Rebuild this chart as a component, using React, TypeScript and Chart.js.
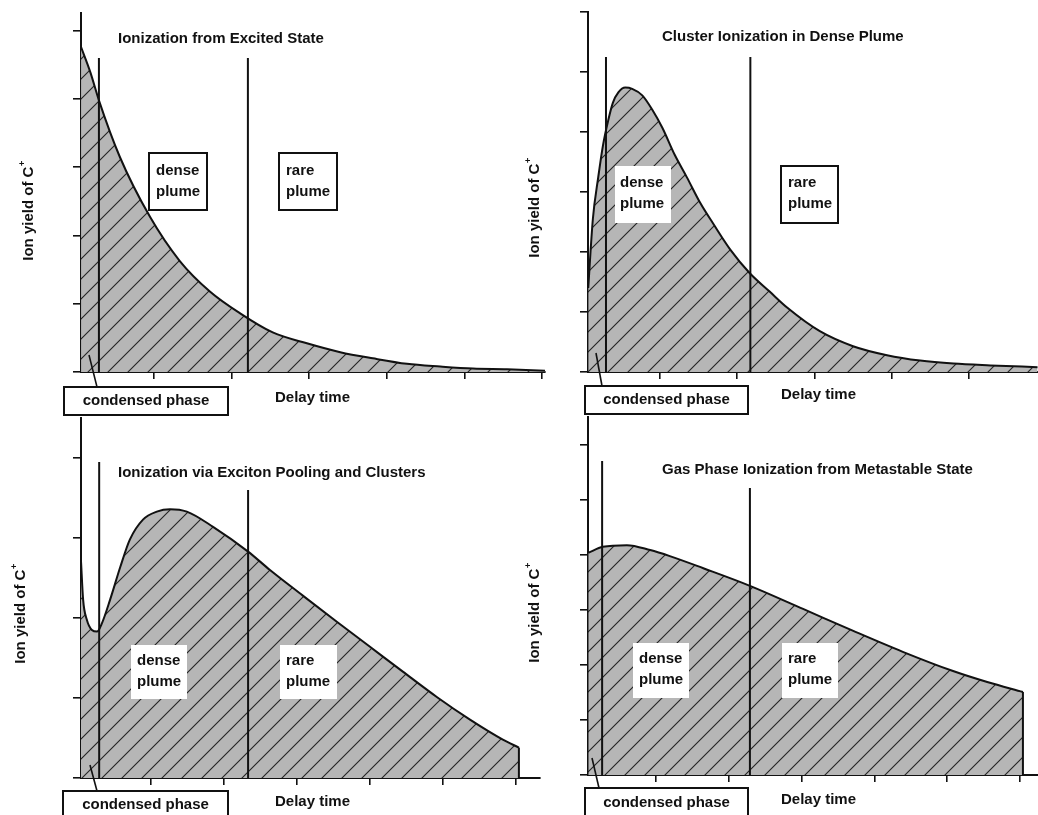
import { useEffect, useRef } from "react";
import { Chart, registerables } from "chart.js";

Chart.register(...registerables);

// ---------------- Data (arbitrary time units / yield units) ----------------
// Panel 1: Ionization from Excited State
const p1Time = [0.06, 0.18, 0.29, 0.56, 0.95, 1.33, 1.72, 2.11, 2.53, 2.97, 3.4, 3.82, 4.26, 4.69, 5.11, 5.55, 6.04];
const p1Yield = [4.76, 4.39, 3.98, 3.15, 2.27, 1.63, 1.18, 0.86, 0.58, 0.42, 0.29, 0.2, 0.12, 0.08, 0.05, 0.04, 0.02];
const p1Phases = [0.29, 2.21];
const p1PhaseTop = [4.6, 4.6];

// Panel 2: Cluster Ionization in Dense Plume
const p2Time = [0.07, 0.13, 0.2, 0.26, 0.33, 0.39, 0.46, 0.55, 0.64, 0.77, 0.9, 1.03, 1.19, 1.35, 1.52, 1.69, 1.91, 2.16, 2.42, 2.65, 3.07, 3.5, 3.94, 4.37, 4.8, 5.28, 5.89];
const p2Yield = [1.4, 2.55, 3.25, 3.77, 4.2, 4.49, 4.66, 4.74, 4.72, 4.61, 4.37, 4.07, 3.62, 3.24, 2.82, 2.47, 2.04, 1.65, 1.34, 1.07, 0.68, 0.43, 0.28, 0.19, 0.14, 0.11, 0.08];
const p2Phases = [0.3, 2.17];
const p2PhaseTop = [5.25, 5.25];

// Panel 3: Ionization via Exciton Pooling and Clusters
const p3Time = [0.04, 0.07, 0.12, 0.19, 0.26, 0.33, 0.44, 0.58, 0.71, 0.89, 1.08, 1.26, 1.49, 1.85, 2.33, 2.63, 3.08, 3.55, 4.0, 4.45, 4.92, 5.37, 5.82, 6.04];
const p3Yield = [2.73, 2.23, 1.98, 1.85, 1.83, 1.94, 2.23, 2.64, 2.98, 3.23, 3.33, 3.36, 3.33, 3.14, 2.83, 2.6, 2.28, 1.95, 1.64, 1.33, 1.01, 0.73, 0.48, 0.38];
const p3Phases = [0.29, 2.33];
const p3PhaseTop = [3.95, 3.6];

// Panel 4: Gas Phase Ionization from Metastable State
const p4Time = [0.07, 0.27, 0.6, 0.92, 1.19, 1.65, 2.29, 3.02, 3.71, 4.39, 5.08, 5.55, 6.04];
const p4Yield = [4.04, 4.15, 4.18, 4.09, 3.98, 3.76, 3.44, 3.02, 2.62, 2.24, 1.89, 1.69, 1.51];
const p4Phases = [0.26, 2.29];
const p4PhaseTop = [5.71, 5.22];

const xTickValues = [1, 2, 3, 4, 5, 6];
const yTicks5 = [0, 1, 2, 3, 4, 5];
const yTicks6 = [0, 1, 2, 3, 4, 5, 6];
const yTicks4 = [0, 1, 2, 3, 4];

const TITLES = [
  "Ionization from Excited State",
  "Cluster Ionization in Dense Plume",
  "Ionization via Exciton Pooling and Clusters",
  "Gas Phase Ionization from Metastable State",
];
const Y_LABEL = "Ion yield of C";
const X_LABEL = "Delay time";
const CONDENSED = "condensed phase";

// ---------------- Layout / style ----------------
const W = 1038;
const H = 815;
const FONT = 'bold 15px "Liberation Sans", Arial, Helvetica, sans-serif';
const SMALL_FONT = 'bold 9px "Liberation Sans", Arial, Helvetica, sans-serif';
const INK = "#111111";

type Box = { x: number; y: number; w: number; h: number; border: boolean; tx: number; ly: [number, number]; lines: [string, string] };

type Panel = {
  time: number[];
  yld: number[];
  phases: number[];
  phaseTop: number[];
  yTicks: number[];
  xMin: number;
  xMax: number;
  yMax: number;
  padding: { left: number; top: number; right: number; bottom: number };
  title: { x: number; y: number; text: string };
  yLabel: { x: number; y: number };
  xLabel: { x: number; y: number };
  condensed: { x: number; y: number; w: number; h: number; ty: number; pointer: [number, number, number, number] };
  boxes: Box[];
  closeEnd: boolean;
};

const panels: Panel[] = [
  {
    time: p1Time, yld: p1Yield, phases: p1Phases, phaseTop: p1PhaseTop, yTicks: yTicks5,
    xMin: 0.059, xMax: 6.039, yMax: 5.26,
    padding: { left: 73, top: 13, right: 493, bottom: 436 },
    title: { x: 118, y: 39, text: TITLES[0] },
    yLabel: { x: 29, y: 211 },
    xLabel: { x: 275, y: 398 },
    condensed: { x: 64, y: 387, w: 164, h: 28, ty: 401, pointer: [89, 355, 97, 387] },
    boxes: [
      { x: 149, y: 153, w: 58, h: 57, border: true, tx: 156, ly: [171, 192], lines: ["dense", "plume"] },
      { x: 279, y: 153, w: 58, h: 57, border: true, tx: 286, ly: [171, 192], lines: ["rare", "plume"] },
    ],
    closeEnd: false,
  },
  {
    time: p2Time, yld: p2Yield, phases: p2Phases, phaseTop: p2PhaseTop, yTicks: yTicks6,
    xMin: 0.067, xMax: 5.896, yMax: 6,
    padding: { left: 580, top: 12, right: 0, bottom: 436 },
    title: { x: 662, y: 37, text: TITLES[1] },
    yLabel: { x: 535, y: 208 },
    xLabel: { x: 781, y: 395 },
    condensed: { x: 585, y: 386, w: 163, h: 28, ty: 400, pointer: [596, 353, 602, 386] },
    boxes: [
      { x: 615, y: 166, w: 56, h: 57, border: false, tx: 620, ly: [183, 204], lines: ["dense", "plume"] },
      { x: 781, y: 166, w: 57, h: 57, border: true, tx: 788, ly: [183, 204], lines: ["rare", "plume"] },
    ],
    closeEnd: false,
  },
  {
    time: p3Time, yld: p3Yield, phases: p3Phases, phaseTop: p3PhaseTop, yTicks: yTicks4,
    xMin: 0.041, xMax: 6.329, yMax: 4.5,
    padding: { left: 73, top: 418, right: 498, bottom: 30 },
    title: { x: 118, y: 473, text: TITLES[2] },
    yLabel: { x: 21, y: 614 },
    xLabel: { x: 275, y: 802 },
    condensed: { x: 63, y: 791, w: 165, h: 32, ty: 805, pointer: [90, 765, 97, 791] },
    boxes: [
      { x: 131, y: 645, w: 56, h: 54, border: false, tx: 137, ly: [661, 682], lines: ["dense", "plume"] },
      { x: 280, y: 645, w: 57, h: 54, border: false, tx: 286, ly: [661, 682], lines: ["rare", "plume"] },
    ],
    closeEnd: true,
  },
  {
    time: p4Time, yld: p4Yield, phases: p4Phases, phaseTop: p4PhaseTop, yTicks: yTicks6,
    xMin: 0.066, xMax: 6.247, yMax: 6.51,
    padding: { left: 580, top: 417, right: 0, bottom: 33 },
    title: { x: 662, y: 470, text: TITLES[3] },
    yLabel: { x: 535, y: 613 },
    xLabel: { x: 781, y: 800 },
    condensed: { x: 585, y: 788, w: 163, h: 34, ty: 803, pointer: [592, 758, 599, 788] },
    boxes: [
      { x: 633, y: 643, w: 56, h: 55, border: false, tx: 639, ly: [659, 680], lines: ["dense", "plume"] },
      { x: 782, y: 643, w: 56, h: 55, border: false, tx: 788, ly: [659, 680], lines: ["rare", "plume"] },
    ],
    closeEnd: true,
  },
];

function makeHatch(ctx: CanvasRenderingContext2D): CanvasPattern | string {
  const S = 20;
  const t = document.createElement("canvas");
  t.width = S;
  t.height = S;
  const c = t.getContext("2d");
  if (!c) return "#b6b6b6";
  c.fillStyle = "#b6b6b6";
  c.fillRect(0, 0, S, S);
  c.strokeStyle = "#222222";
  c.lineWidth = 1.1;
  for (const k of [0, 1, 2]) {
    c.beginPath();
    c.moveTo(-2, S * k + 2);
    c.lineTo(S + 2, S * k - S - 2);
    c.stroke();
  }
  return ctx.createPattern(t, "repeat") || "#b6b6b6";
}

function drawYLabel(ctx: CanvasRenderingContext2D, cx: number, cy: number) {
  ctx.save();
  ctx.translate(cx, cy);
  ctx.rotate(-Math.PI / 2);
  ctx.font = FONT;
  const w1 = ctx.measureText(Y_LABEL).width;
  ctx.font = SMALL_FONT;
  const w2 = ctx.measureText("+").width;
  const start = -(w1 + w2) / 2;
  ctx.fillStyle = INK;
  ctx.textAlign = "left";
  ctx.textBaseline = "middle";
  ctx.font = FONT;
  ctx.fillText(Y_LABEL, start, 0);
  ctx.font = SMALL_FONT;
  ctx.fillText("+", start + w1 + 0.5, -6);
  ctx.restore();
}

function annotationPlugin(p: Panel) {
  return {
    id: "annot",
    afterDraw(chart: any) {
      const ctx: CanvasRenderingContext2D = chart.ctx;
      const xs = chart.scales.x;
      const ys = chart.scales.y;
      const base = ys.getPixelForValue(0);
      ctx.save();
      ctx.strokeStyle = INK;
      ctx.lineCap = "butt";

      // phase boundary lines
      ctx.lineWidth = 2;
      p.phases.forEach((v, i) => {
        const px = xs.getPixelForValue(v);
        ctx.beginPath();
        ctx.moveTo(px, ys.getPixelForValue(p.phaseTop[i]));
        ctx.lineTo(px, base);
        ctx.stroke();
      });

      // closing edge at the end of the curve
      if (p.closeEnd) {
        const lx = xs.getPixelForValue(p.time[p.time.length - 1]);
        const ly = ys.getPixelForValue(p.yld[p.yld.length - 1]);
        ctx.beginPath();
        ctx.moveTo(lx, ly);
        ctx.lineTo(lx, base);
        ctx.stroke();
      }

      // plume boxes
      p.boxes.forEach((b) => {
        ctx.fillStyle = "#ffffff";
        ctx.fillRect(b.x, b.y, b.w, b.h);
        if (b.border) {
          ctx.lineWidth = 2;
          ctx.strokeRect(b.x, b.y, b.w, b.h);
        }
        ctx.fillStyle = INK;
        ctx.font = FONT;
        ctx.textAlign = "left";
        ctx.textBaseline = "middle";
        ctx.fillText(b.lines[0], b.tx, b.ly[0]);
        ctx.fillText(b.lines[1], b.tx, b.ly[1]);
      });

      // condensed phase box + pointer
      const c = p.condensed;
      ctx.lineWidth = 1.6;
      ctx.beginPath();
      ctx.moveTo(c.pointer[0], c.pointer[1]);
      ctx.lineTo(c.pointer[2], c.pointer[3]);
      ctx.stroke();
      ctx.fillStyle = "#ffffff";
      ctx.fillRect(c.x, c.y, c.w, c.h);
      ctx.lineWidth = 2;
      ctx.strokeRect(c.x, c.y, c.w, c.h);
      ctx.fillStyle = INK;
      ctx.font = FONT;
      ctx.textAlign = "center";
      ctx.textBaseline = "middle";
      ctx.fillText(CONDENSED, c.x + c.w / 2, c.ty);

      // title and axis labels
      ctx.textAlign = "left";
      ctx.fillText(p.title.text, p.title.x, p.title.y);
      ctx.fillText(X_LABEL, p.xLabel.x, p.xLabel.y);
      drawYLabel(ctx, p.yLabel.x, p.yLabel.y);
      ctx.restore();
    },
  };
}

function PanelChart({ p }: { p: Panel }) {
  const ref = useRef<HTMLCanvasElement | null>(null);
  useEffect(() => {
    const canvas = ref.current;
    if (!canvas) return;
    const ctx = canvas.getContext("2d");
    if (!ctx) return;
    const hatch = makeHatch(ctx);
    const chart = new Chart(canvas, {
      type: "line",
      data: {
        datasets: [
          {
            data: p.time.map((t, i) => ({ x: t, y: p.yld[i] })),
            borderColor: INK,
            borderWidth: 2,
            pointRadius: 0,
            fill: "origin",
            backgroundColor: hatch as any,
            cubicInterpolationMode: "monotone",
          },
        ],
      },
      options: {
        animation: false,
        responsive: false,
        events: [],
        layout: { padding: p.padding, autoPadding: false } as any,
        plugins: { legend: { display: false }, tooltip: { enabled: false }, title: { display: false } },
        scales: {
          x: {
            type: "linear",
            min: p.xMin,
            max: p.xMax,
            z: 1,
            afterBuildTicks: (s: any) => {
              s.ticks = xTickValues.filter((v) => v <= p.xMax).map((v) => ({ value: v }));
            },
            grid: { drawOnChartArea: false, drawTicks: true, tickLength: 7, color: INK, lineWidth: 1.6 },
            border: { display: true, color: INK, width: 2 },
            ticks: { display: false },
          },
          y: {
            type: "linear",
            min: 0,
            max: p.yMax,
            z: 1,
            afterBuildTicks: (s: any) => {
              s.ticks = p.yTicks.map((v) => ({ value: v }));
            },
            grid: { drawOnChartArea: false, drawTicks: true, tickLength: 8, color: INK, lineWidth: 1.6 },
            border: { display: true, color: INK, width: 2 },
            ticks: { display: false },
          },
        },
      } as any,
      plugins: [annotationPlugin(p)],
    });
    return () => chart.destroy();
  }, [p]);
  return (
    <canvas
      ref={ref}
      width={W}
      height={H}
      style={{ position: "absolute", left: 0, top: 0, width: W, height: H }}
    />
  );
}

export default function App() {
  return (
    <div style={{ position: "absolute", left: 0, top: 0, width: W, height: H, background: "#ffffff", overflow: "hidden" }}>
      {panels.map((p, i) => (
        <PanelChart key={i} p={p} />
      ))}
    </div>
  );
}
